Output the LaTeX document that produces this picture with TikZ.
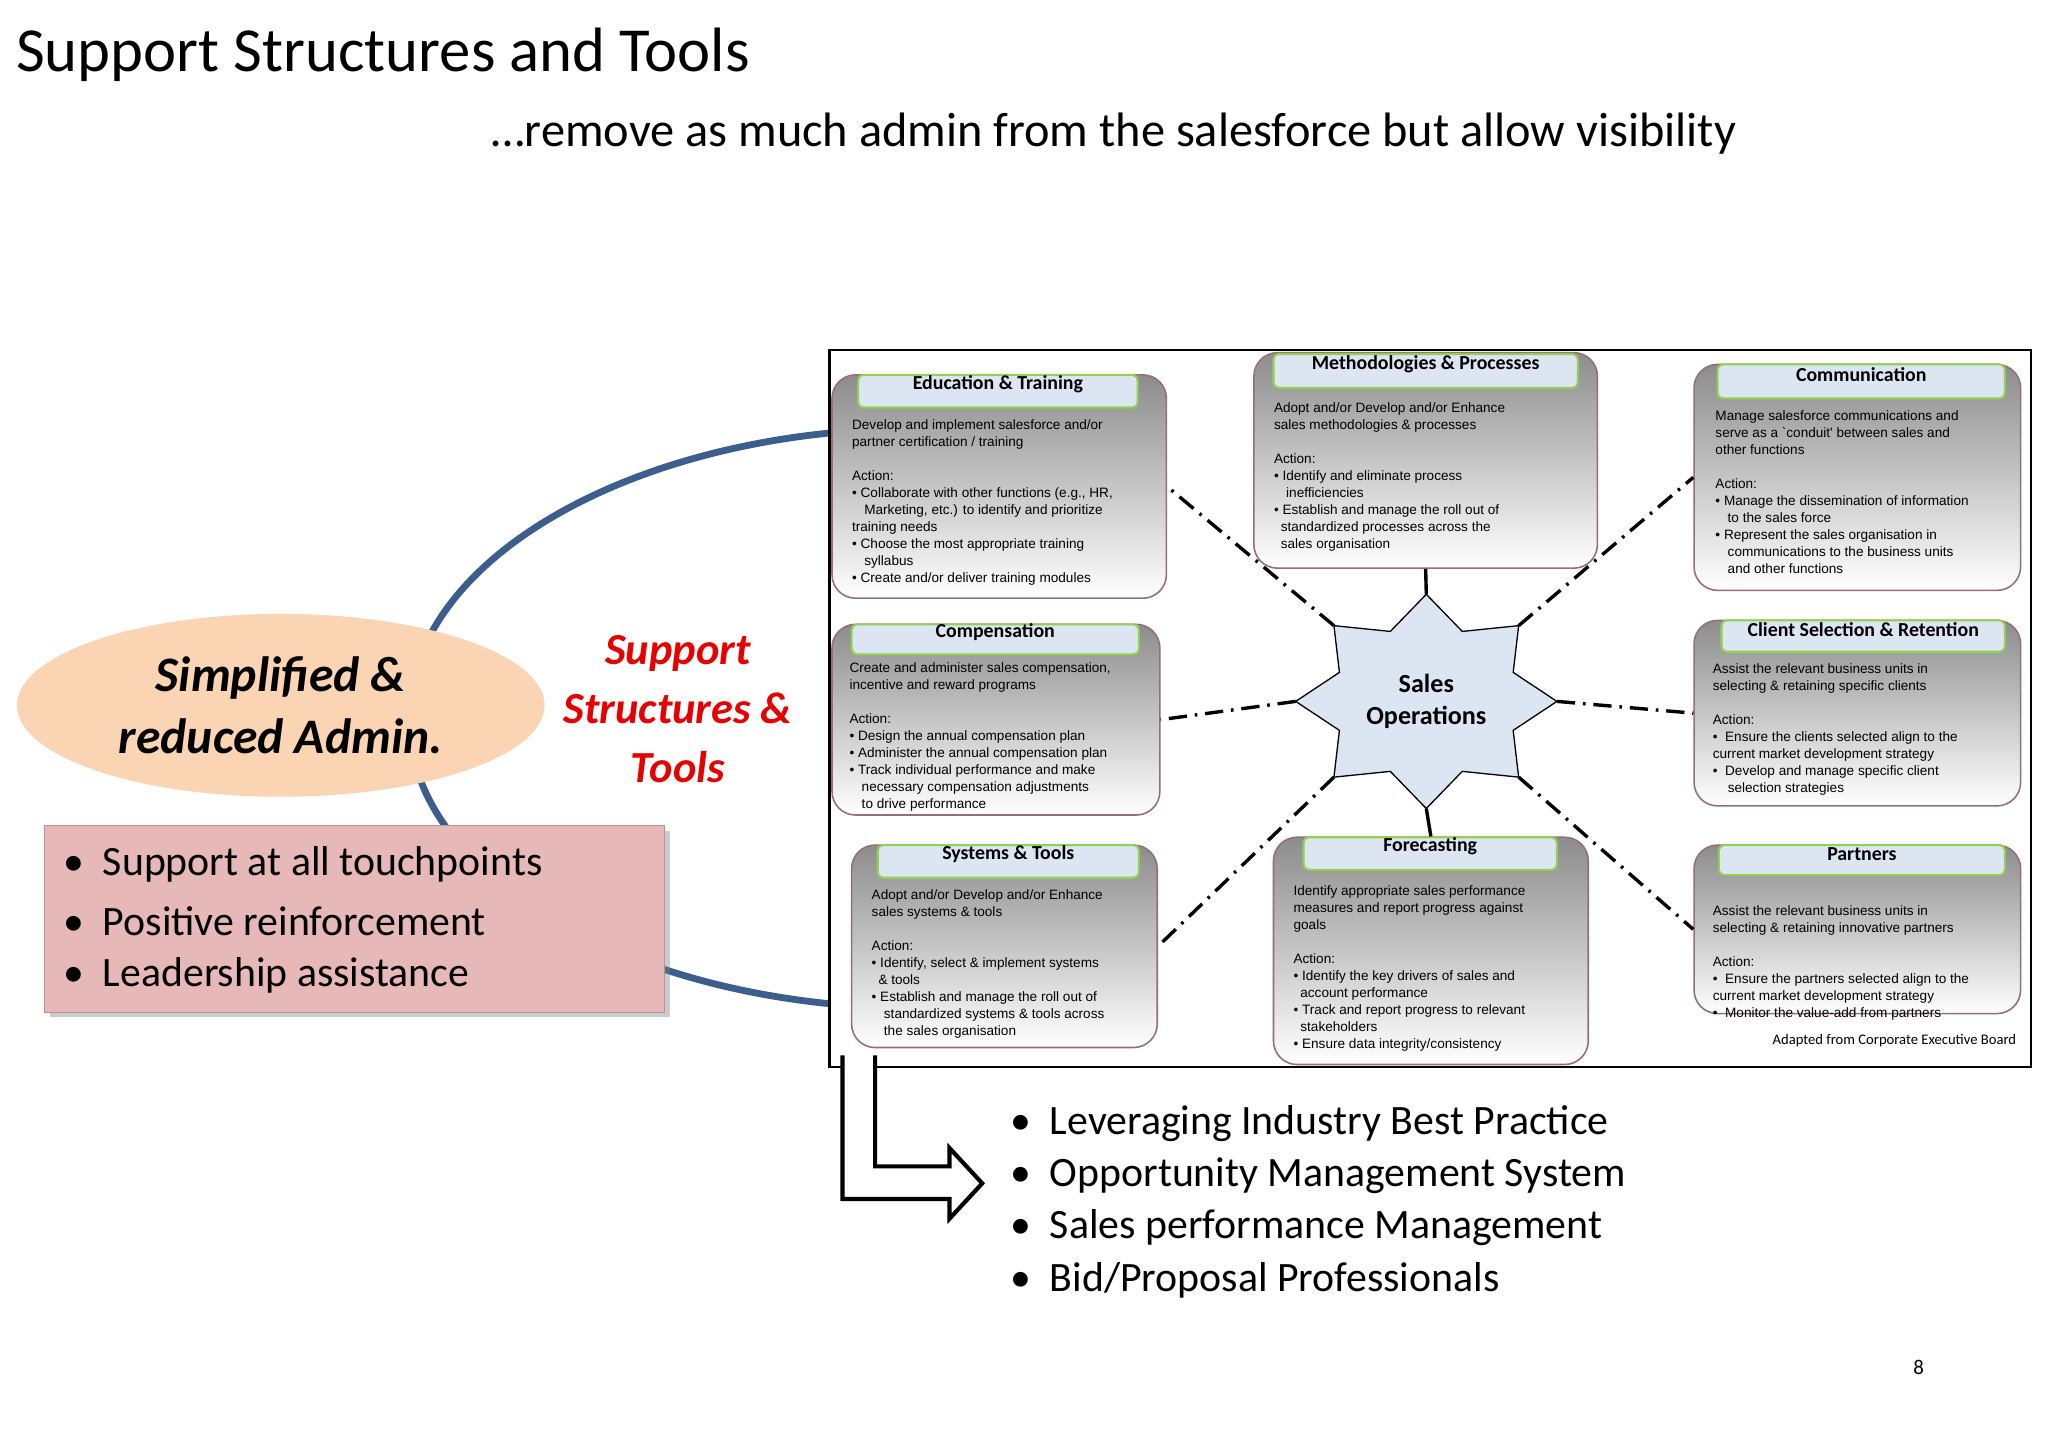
\documentclass[tikz,border=0pt]{standalone}
\usepackage{fontspec}
\setmainfont{Carlito}
\newfontfamily\arialf{Liberation Sans}
\usetikzlibrary{fit,shadows,shapes.geometric}
\definecolor{ellblue}{RGB}{59,94,140}
\definecolor{hdrfill}{RGB}{220,230,242}
\definecolor{hdrline}{RGB}{146,208,80}
\definecolor{boxline}{RGB}{150,110,120}
\definecolor{orangef}{RGB}{251,212,180}
\definecolor{pinkf}{RGB}{230,184,183}
\definecolor{redt}{RGB}{230,0,0}
\tikzset{
  box/.style={draw=boxline, line width=0.6pt, rounded corners=9pt, top color=black!45, bottom color=white, inner sep=0pt},
  hdr/.style={draw=hdrline, line width=0.8pt, fill=hdrfill, rounded corners=2pt, inner sep=0pt, font=\fontsize{7.6}{8}\selectfont\bfseries},
  btxt/.style={anchor=north west, align=left, inner sep=0pt, font=\arialf\fontsize{5.2}{6.5}\selectfont},
  conn/.style={line width=1.3pt, dash pattern=on 7pt off 3pt on 1pt off 3pt},
  solidc/.style={line width=1.3pt},
  bul/.style={anchor=west, inner sep=0pt}
}
\begin{document}
\begin{tikzpicture}[x=0.5pt,y=-0.5pt]
\useasboundingbox (0,0) rectangle (1568,1108);
\fill[white] (0,0) rectangle (1568,1108);
% titles
\node[anchor=west, inner sep=0pt, font=\fontsize{24}{28}\selectfont] (title) at (12,42) {Support Structures and Tools};
\node[anchor=west, inner sep=0pt, font=\fontsize{18.5}{22}\selectfont] (sub) at (376,102) {\ldots remove as much admin from the salesforce but allow visibility};
% big blue ellipse
\draw[ellblue, line width=2.6pt] (705,550) ellipse [x radius=392, y radius=222];
% main frame
\node[draw=black, line width=1pt, fill=white, inner sep=0pt, fit={(635,268)(1555,817)}] (frame) {};
% boxes
\node[box, fit={(637,287)(893,458)}] (edu) {};
\node[box, fit={(960,270)(1223,435)}] (meth) {};
\node[box, fit={(1297,279)(1547,452)}] (comm) {};
\node[box, fit={(637,478)(888,624)}] (comp) {};
\node[box, fit={(1297,475)(1547,617)}] (client) {};
\node[box, fit={(652,647)(886,802)}] (sys) {};
\node[box, fit={(975,641)(1216,815)}] (fore) {};
\node[box, fit={(1297,647)(1547,776)}] (part) {};
% headers
\node[hdr, fit={(657,287)(871,312)}] (eduh) {Education \& Training};
\node[hdr, fit={(975,271)(1208,297)}] (methh) {Methodologies \& Processes};
\node[hdr, fit={(1315,279)(1535,305)}] (commh) {Communication};
\node[hdr, fit={(652,478)(872,501)}] (comph) {Compensation};
\node[hdr, fit={(1318,475)(1535,499)}] (clienth) {Client Selection \& Retention};
\node[hdr, fit={(672,647)(872,672)}] (sysh) {Systems \& Tools};
\node[hdr, fit={(998,641)(1192,666)}] (foreh) {Forecasting};
\node[hdr, fit={(1316,647)(1535,670)}] (parth) {Partners};
% box texts
\node[btxt] (edut) at (652,321) {Develop and implement salesforce and/or\\partner certification / training\\[6.5pt]Action:\\\textbullet\ Collaborate with other functions (e.g., HR,\\\hspace*{0.9em}Marketing, etc.) to identify and prioritize\\training needs\\\textbullet\ Choose the most appropriate training\\\hspace*{0.9em}syllabus\\\textbullet\ Create and/or deliver training modules};
\node[btxt] (metht) at (975,308) {Adopt and/or Develop and/or Enhance\\sales methodologies \& processes\\[6.5pt]Action:\\\textbullet\ Identify and eliminate process\\\hspace*{0.9em}inefficiencies\\\textbullet\ Establish and manage the roll out of\\\hspace*{0.5em}standardized processes across the\\\hspace*{0.5em}sales organisation};
\node[btxt] (commt) at (1313,314) {Manage salesforce communications and\\serve as a `conduit' between sales and\\other functions\\[6.5pt]Action:\\\textbullet\ Manage the dissemination of information\\\hspace*{0.9em}to the sales force\\\textbullet\ Represent the sales organisation in\\\hspace*{0.9em}communications to the business units\\\hspace*{0.9em}and other functions};
\node[btxt] (compt) at (650,507) {Create and administer sales compensation,\\incentive and reward programs\\[6.5pt]Action:\\\textbullet\ Design the annual compensation plan\\\textbullet\ Administer the annual compensation plan\\\textbullet\ Track individual performance and make\\\hspace*{0.9em}necessary compensation adjustments\\\hspace*{0.9em}to drive performance};
\node[btxt] (clientt) at (1311,508) {Assist the relevant business units in\\selecting \& retaining specific clients\\[6.5pt]Action:\\\textbullet\ \ Ensure the clients selected align to the\\current market development strategy\\\textbullet\ \ Develop and manage specific client\\\hspace*{1.1em}selection strategies};
\node[btxt] (syst) at (667,681) {Adopt and/or Develop and/or Enhance\\sales systems \& tools\\[6.5pt]Action:\\\textbullet\ Identify, select \& implement systems\\\hspace*{0.5em}\& tools\\\textbullet\ Establish and manage the roll out of\\\hspace*{0.9em}standardized systems \& tools across\\\hspace*{0.9em}the sales organisation};
\node[btxt] (foret) at (990,678) {Identify appropriate sales performance\\measures and report progress against\\goals\\[6.5pt]Action:\\\textbullet\ Identify the key drivers of sales and\\\hspace*{0.5em}account performance\\\textbullet\ Track and report progress to relevant\\\hspace*{0.5em}stakeholders\\\textbullet\ Ensure data integrity/consistency};
\node[btxt] (partt) at (1311,693) {Assist the relevant business units in\\selecting \& retaining innovative partners\\[6.5pt]Action:\\\textbullet\ \ Ensure the partners selected align to the\\current market development strategy\\\textbullet\ \ Monitor the value-add from partners};
\node[anchor=east, inner sep=0pt, font=\fontsize{5.6}{7}\selectfont] (src) at (1544,797) {Adapted from Corporate Executive Board};
% star
\foreach \k in {0,...,7}{
  \coordinate (o\k) at ({1092+100*cos(45*\k)},{537-82*sin(45*\k)});
  \coordinate (i\k) at ({1092+72*cos(45*\k+22.5)},{537-58*sin(45*\k+22.5)});
}
\draw[fill=hdrfill, line width=0.5pt] (o0)--(i0)--(o1)--(i1)--(o2)--(i2)--(o3)--(i3)--(o4)--(i4)--(o5)--(i5)--(o6)--(i6)--(o7)--(i7)--cycle;
\node[align=center, font=\fontsize{10}{12}\selectfont\bfseries] (star) at (1092,537) {Sales\\Operations};
% connectors
\draw[conn] (o3) -- (edu.east);
\draw[solidc] (o2) -- (meth.south);
\draw[conn] (o1) -- (comm.west);
\draw[conn] (o4) -- (comp.east);
\draw[conn] (o0) -- (client.west);
\draw[conn] (o5) -- (sys.east);
\draw[solidc] (o6) -- (fore.north);
\draw[conn] (o7) -- (part.west);
% left side
\node[ellipse, fill=orangef, minimum width=202pt, minimum height=70pt, inner sep=0pt, align=center, font=\fontsize{19}{24}\selectfont\bfseries\itshape] (simp) at (215,540) {Simplified \&\\reduced Admin.};
\node[align=center, text=redt, font=\fontsize{17}{22.5}\selectfont\bfseries\itshape] (sst) at (519,543) {Support\\Structures \&\\Tools};
\node[fill=pinkf, draw=pinkf!80!black, line width=0.3pt, drop shadow={shadow xshift=2pt, shadow yshift=-2pt, opacity=0.4}, inner sep=0pt, fit={(34,632)(509,775)}] (pink) {};
\node[bul, font=\fontsize{16}{19}\selectfont] (p1) at (48,662) {\textbullet\ \ Support at all touchpoints};
\node[bul, font=\fontsize{16}{19}\selectfont] (p2) at (48,705) {\textbullet\ \ Positive reinforcement};
\node[bul, font=\fontsize{16}{19}\selectfont] (p3) at (48,747) {\textbullet\ \ Leadership assistance};
% hollow arrow
\draw[line width=1.6pt, fill=white, line join=miter] (645,808) -- (645,918) -- (727,918) -- (727,933) -- (752,906) -- (727,879) -- (727,893) -- (670,893) -- (670,808);
% bottom bullets
\node[bul, font=\fontsize{16}{19}\selectfont] (b1) at (773,860) {\textbullet\ \ Leveraging Industry Best Practice};
\node[bul, font=\fontsize{16}{19}\selectfont] (b2) at (773,900) {\textbullet\ \ Opportunity Management System};
\node[bul, font=\fontsize{16}{19}\selectfont] (b3) at (773,940) {\textbullet\ \ Sales performance Management};
\node[bul, font=\fontsize{16}{19}\selectfont] (b4) at (773,980) {\textbullet\ \ Bid/Proposal Professionals};
\node[font=\fontsize{8}{10}\selectfont] (pg) at (1469,1047) {8};
\end{tikzpicture}
\end{document}
